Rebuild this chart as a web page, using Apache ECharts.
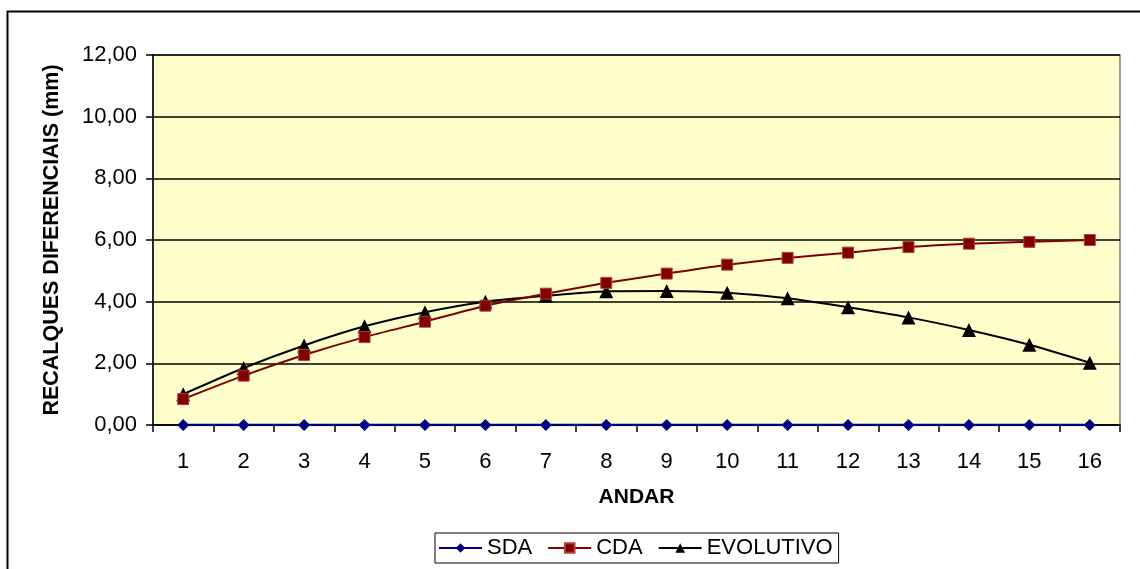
<!DOCTYPE html>
<html>
<head>
<meta charset="utf-8">
<script src="https://cdn.jsdelivr.net/npm/echarts@6/dist/echarts.min.js"></script>
<style>
  html, body { margin: 0; padding: 0; background: #ffffff; }
  #chart { width: 1140px; height: 569px; }
</style>
</head>
<body>
<div id="chart"></div>
<script>
// Floors (ANDAR) along the horizontal axis
const andar = ['1','2','3','4','5','6','7','8','9','10','11','12','13','14','15','16'];

// Differential settlements (mm) per floor
const sda = [0, 0, 0, 0, 0, 0, 0, 0, 0, 0, 0, 0, 0, 0, 0, 0];
const cda = [0.84, 1.60, 2.27, 2.85, 3.35, 3.87, 4.26, 4.61, 4.91, 5.20, 5.42, 5.59, 5.77, 5.88, 5.94, 6.00];
const evolutivo = [1.00, 1.85, 2.58, 3.20, 3.66, 4.00, 4.19, 4.34, 4.35, 4.29, 4.11, 3.82, 3.49, 3.08, 2.60, 2.02];

const font = '"Liberation Sans", Arial, sans-serif';

const chart = echarts.init(document.getElementById('chart'), null, { renderer: 'canvas' });

chart.setOption({
  animation: false,
  backgroundColor: '#ffffff',
  textStyle: { fontFamily: font, color: '#000' },
  graphic: [
    {
      type: 'rect',
      shape: { x: 7.5, y: 11.5, width: 1150, height: 600 },
      style: { fill: 'none', stroke: '#000', lineWidth: 2 },
      z: -10
    }
  ],
  grid: {
    left: 153, top: 55, right: 20, bottom: 144,
    show: true,
    backgroundColor: '#FFFFCC',
    borderColor: '#808080',
    borderWidth: 1.5
  },
  legend: {
    bottom: 6,
    left: 435,
    itemGap: 15,
    itemWidth: 43,
    itemHeight: 12,
    padding: [4, 6, 4, 3],
    borderColor: '#000',
    borderWidth: 1,
    textStyle: { fontFamily: font, fontSize: 22, color: '#000' },
    data: ['SDA', 'CDA', 'EVOLUTIVO']
  },
  xAxis: {
    type: 'category',
    data: andar,
    boundaryGap: true,
    name: 'ANDAR',
    nameLocation: 'middle',
    nameGap: 62,
    nameTextStyle: { fontFamily: font, fontSize: 21, fontWeight: 'bold', color: '#000' },
    axisLine: { show: true, onZero: true, lineStyle: { color: '#000', width: 1.5 } },
    axisTick: { show: true, alignWithLabel: false, length: 7, lineStyle: { color: '#000', width: 1.5 } },
    axisLabel: { fontFamily: font, fontSize: 22, color: '#000', margin: 26 },
    splitLine: { show: false }
  },
  yAxis: {
    type: 'value',
    min: 0, max: 12, interval: 2,
    name: 'RECALQUES DIFERENCIAIS (mm)',
    nameLocation: 'middle',
    nameGap: 90,
    nameRotate: 90,
    nameTextStyle: { fontFamily: font, fontSize: 21.5, fontWeight: 'bold', color: '#000' },
    axisLine: { show: true, lineStyle: { color: '#000', width: 1.5 } },
    axisTick: { show: true, length: 7, lineStyle: { color: '#000', width: 1.5 } },
    axisLabel: {
      fontFamily: font, fontSize: 22, color: '#000', margin: 16,
      formatter: v => v.toFixed(2).replace('.', ',')
    },
    splitLine: { show: true, lineStyle: { color: '#000', width: 1.5 } }
  },
  series: [
    {
      name: 'SDA', type: 'line', data: sda,
      symbol: 'diamond', symbolSize: 12,
      lineStyle: { color: '#000080', width: 2.5 },
      itemStyle: { color: '#000080' },
      z: 5
    },
    {
      name: 'CDA', type: 'line', data: cda, smooth: 0.2,
      symbol: 'rect', symbolSize: 11,
      lineStyle: { color: '#800000', width: 2 },
      itemStyle: { color: '#800000', borderColor: '#b04040', borderWidth: 1 },
      z: 4
    },
    {
      name: 'EVOLUTIVO', type: 'line', data: evolutivo, smooth: 0.2,
      symbol: 'triangle', symbolSize: 14,
      lineStyle: { color: '#000000', width: 2 },
      itemStyle: { color: '#000000' },
      z: 3
    }
  ]
});
</script>
</body>
</html>
